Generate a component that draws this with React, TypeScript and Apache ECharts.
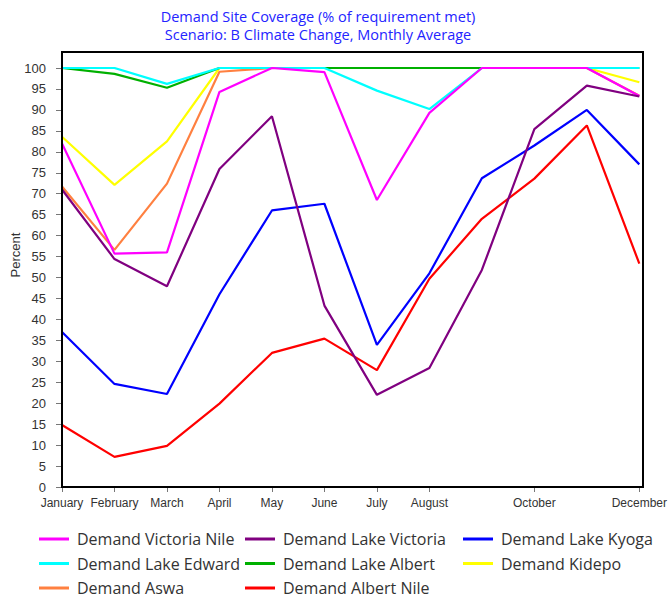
import React, { useEffect, useRef } from "react";
import * as echarts from "echarts";

const months = ["January", "February", "March", "April", "May", "June", "July", "August", "September", "October", "November", "December"];
const hiddenMonthLabels = ["September", "November"];
const yTickValues = { min: 0, max: 100, step: 5 };

const victoriaNile = [82, 55.7, 56, 94.3, 100, 99, 68.5, 89.3, 100, 100, 100, 93.3];
const lakeVictoria = [71, 54.4, 47.9, 75.9, 88.5, 43.3, 22, 28.4, 51.8, 85.4, 95.8, 93.2];
const lakeKyoga = [37, 24.6, 22.2, 46, 66, 67.6, 33.9, 51, 73.7, 81.5, 90, 77];
const lakeEdward = [100, 100, 96.2, 100, 100, 100, 94.6, 90.2, 100, 100, 100, 100];
const lakeAlbert = [100, 98.6, 95.3, 100, 100, 100, 100, 100, 100, 100, 100, 100];
const kidepo = [83.6, 72.1, 82.5, 100, 100, 100, 100, 100, 100, 100, 100, 96.6];
const aswa = [71.7, 56.6, 72.4, 99.1, 100, 100, 100, 100, 100, 100, 100, 93.4];
const albertNile = [14.8, 7.2, 9.8, 19.9, 32, 35.4, 27.9, 49.7, 64, 73.6, 86.3, 53.3];

const seriesDefs = [
  { name: "Demand Kidepo", data: kidepo, color: "#FFFF00" },
  { name: "Demand Aswa", data: aswa, color: "#FF8040" },
  { name: "Demand Lake Albert", data: lakeAlbert, color: "#00B000" },
  { name: "Demand Lake Edward", data: lakeEdward, color: "#00FFFF" },
  { name: "Demand Victoria Nile", data: victoriaNile, color: "#FF00FF" },
  { name: "Demand Lake Kyoga", data: lakeKyoga, color: "#0000FF" },
  { name: "Demand Albert Nile", data: albertNile, color: "#FF0000" },
  { name: "Demand Lake Victoria", data: lakeVictoria, color: "#800080" },
];

const legendColumns = [
  ["Demand Victoria Nile", "Demand Lake Edward", "Demand Aswa"],
  ["Demand Lake Victoria", "Demand Lake Albert", "Demand Albert Nile"],
  ["Demand Lake Kyoga", "Demand Kidepo"],
];

const GRID = { left: 62, right: 27, top: 68, bottom: 112 };

export default function App() {
  const ref = useRef<HTMLDivElement>(null);
  useEffect(() => {
    if (!ref.current) return;
    const chart = echarts.init(ref.current, undefined, { renderer: "svg" });
    const showIdx = (i: number) => !hiddenMonthLabels.includes(months[i]);
    const legendLefts = [39, 245, 463];
    chart.setOption({
      animation: false,
      backgroundColor: "#fff",
      title: {
        text: "Demand Site Coverage (% of requirement met)\nScenario: B Climate Change, Monthly Average",
        left: 318,
        top: 7,
        textAlign: "center",
        padding: 0,
        textStyle: {
          fontFamily: "Open Sans",
          fontSize: 14.5,
          fontWeight: "normal",
          color: "#2424FF",
          lineHeight: 18,
          align: "center",
        },
      },
      legend: legendColumns.map((col, k) => ({
        orient: "vertical",
        left: legendLefts[k],
        top: 531,
        height: 66,
        padding: 0,
        data: col,
        icon: "rect",
        itemWidth: 30,
        itemHeight: 3,
        itemGap: 8.5,
        selectedMode: false,
        textStyle: {
          fontFamily: "Open Sans",
          fontSize: 16,
          color: "#333",
          lineHeight: 16,
          padding: [0, 0, 0, 3],
        },
      })),
      grid: { ...GRID, containLabel: false },
      xAxis: {
        type: "category",
        data: months,
        boundaryGap: false,
        axisLine: { lineStyle: { color: "#000", width: 2 } },
        axisTick: { interval: (i: number) => showIdx(i), length: 5, lineStyle: { color: "#777" } },
        axisLabel: {
          interval: (i: number) => showIdx(i),
          fontFamily: "Liberation Sans",
          fontSize: 12,
          color: "#333",
          margin: 10,
        },
        splitLine: { show: false },
      },
      yAxis: {
        type: "value",
        min: yTickValues.min,
        max: yTickValues.max,
        interval: yTickValues.step,
        axisLine: { show: true, lineStyle: { color: "#000", width: 2 } },
        axisTick: { show: true, length: 6, lineStyle: { color: "#777" } },
        axisLabel: { fontFamily: "Liberation Sans", fontSize: 13, color: "#333", margin: 16 },
        splitLine: { show: false },
      },
      graphic: [
        {
          type: "rect",
          silent: true,
          z: 100,
          shape: { x: 62, y: 52, width: 581, height: 435 },
          style: { fill: "none", stroke: "#000", lineWidth: 2 },
        },
        {
          type: "text",
          x: 15,
          y: 255,
          rotation: Math.PI / 2,
          style: {
            text: "Percent",
            fontFamily: "Liberation Sans",
            fontSize: 13,
            fill: "#333",
            align: "center",
            verticalAlign: "middle",
          },
        },
      ],
      series: seriesDefs.map((s) => ({
        name: s.name,
        type: "line",
        data: s.data,
        showSymbol: false,
        symbol: "none",
        color: s.color,
        lineStyle: { color: s.color, width: 2.2 },
      })),
    });
    return () => chart.dispose();
  }, []);
  return <div ref={ref} style={{ position: "fixed", left: 0, top: 0, width: 670, height: 599 }} />;
}
